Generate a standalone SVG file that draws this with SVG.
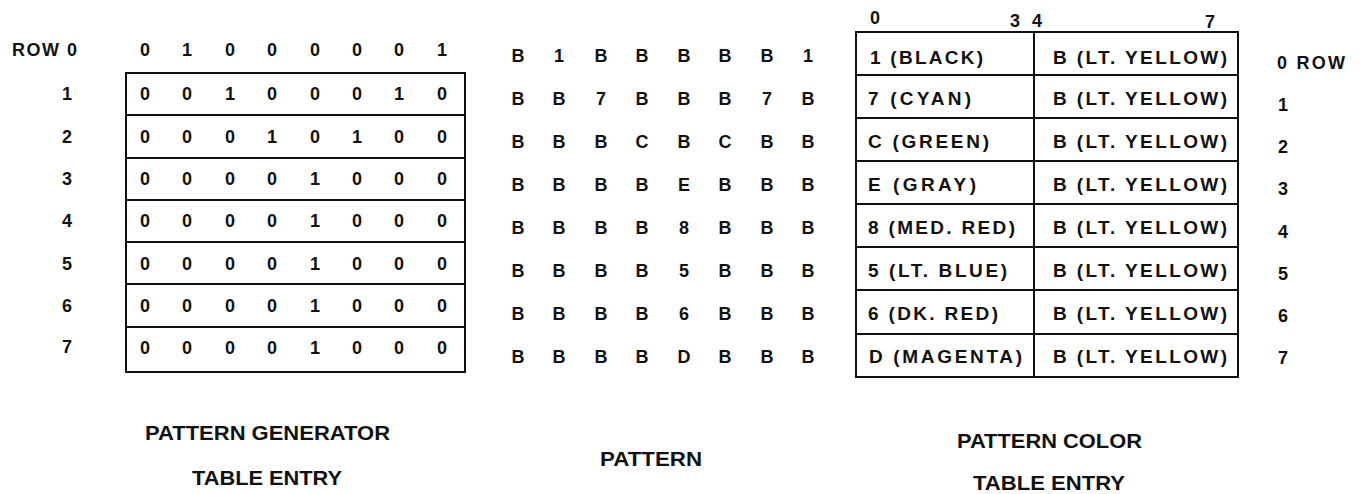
<svg xmlns="http://www.w3.org/2000/svg" width="1361" height="494" viewBox="0 0 1361 494">
<style>
text{font-family:"Liberation Sans",Arial,sans-serif;font-weight:bold;fill:#111;font-size:18px}
.c{text-anchor:middle}
.t{font-size:19px}
.cap{font-size:20px}
.box{fill:none;stroke:#111;stroke-width:2}
.ln{stroke:#111;stroke-width:2}
</style>
<rect width="1361" height="494" fill="#fff"/>

<g id="row-labels-left">
<text x="12" y="56" textLength="65" lengthAdjust="spacing">ROW 0</text>
<text class="c" x="67" y="100">1</text>
<text class="c" x="67" y="143">2</text>
<text class="c" x="67" y="185">3</text>
<text class="c" x="67" y="227">4</text>
<text class="c" x="67" y="270">5</text>
<text class="c" x="67" y="312">6</text>
<text class="c" x="67" y="353">7</text>
</g>

<g id="pattern-generator-table">
<rect class="box" x="126" y="73" width="339" height="299"/>
<line class="ln" x1="126" y1="115" x2="465" y2="115"/>
<line class="ln" x1="126" y1="158" x2="465" y2="158"/>
<line class="ln" x1="126" y1="200" x2="465" y2="200"/>
<line class="ln" x1="126" y1="242" x2="465" y2="242"/>
<line class="ln" x1="126" y1="284" x2="465" y2="284"/>
<line class="ln" x1="126" y1="327" x2="465" y2="327"/>
<text class="c" x="145" y="56">0</text><text class="c" x="187" y="56">1</text><text class="c" x="230" y="56">0</text><text class="c" x="272" y="56">0</text><text class="c" x="315" y="56">0</text><text class="c" x="357" y="56">0</text><text class="c" x="399" y="56">0</text><text class="c" x="442" y="56">1</text>
<text class="c" x="145" y="100">0</text><text class="c" x="187" y="100">0</text><text class="c" x="230" y="100">1</text><text class="c" x="272" y="100">0</text><text class="c" x="315" y="100">0</text><text class="c" x="357" y="100">0</text><text class="c" x="399" y="100">1</text><text class="c" x="442" y="100">0</text>
<text class="c" x="145" y="143">0</text><text class="c" x="187" y="143">0</text><text class="c" x="230" y="143">0</text><text class="c" x="272" y="143">1</text><text class="c" x="315" y="143">0</text><text class="c" x="357" y="143">1</text><text class="c" x="399" y="143">0</text><text class="c" x="442" y="143">0</text>
<text class="c" x="145" y="185">0</text><text class="c" x="187" y="185">0</text><text class="c" x="230" y="185">0</text><text class="c" x="272" y="185">0</text><text class="c" x="315" y="185">1</text><text class="c" x="357" y="185">0</text><text class="c" x="399" y="185">0</text><text class="c" x="442" y="185">0</text>
<text class="c" x="145" y="227">0</text><text class="c" x="187" y="227">0</text><text class="c" x="230" y="227">0</text><text class="c" x="272" y="227">0</text><text class="c" x="315" y="227">1</text><text class="c" x="357" y="227">0</text><text class="c" x="399" y="227">0</text><text class="c" x="442" y="227">0</text>
<text class="c" x="145" y="270">0</text><text class="c" x="187" y="270">0</text><text class="c" x="230" y="270">0</text><text class="c" x="272" y="270">0</text><text class="c" x="315" y="270">1</text><text class="c" x="357" y="270">0</text><text class="c" x="399" y="270">0</text><text class="c" x="442" y="270">0</text>
<text class="c" x="145" y="312">0</text><text class="c" x="187" y="312">0</text><text class="c" x="230" y="312">0</text><text class="c" x="272" y="312">0</text><text class="c" x="315" y="312">1</text><text class="c" x="357" y="312">0</text><text class="c" x="399" y="312">0</text><text class="c" x="442" y="312">0</text>
<text class="c" x="145" y="354">0</text><text class="c" x="187" y="354">0</text><text class="c" x="230" y="354">0</text><text class="c" x="272" y="354">0</text><text class="c" x="315" y="354">1</text><text class="c" x="357" y="354">0</text><text class="c" x="399" y="354">0</text><text class="c" x="442" y="354">0</text>
</g>

<g id="pattern">
<text class="c" x="518" y="62">B</text><text class="c" x="559" y="62">1</text><text class="c" x="601" y="62">B</text><text class="c" x="642" y="62">B</text><text class="c" x="684" y="62">B</text><text class="c" x="725" y="62">B</text><text class="c" x="767" y="62">B</text><text class="c" x="808" y="62">1</text>
<text class="c" x="518" y="105">B</text><text class="c" x="559" y="105">B</text><text class="c" x="601" y="105">7</text><text class="c" x="642" y="105">B</text><text class="c" x="684" y="105">B</text><text class="c" x="725" y="105">B</text><text class="c" x="767" y="105">7</text><text class="c" x="808" y="105">B</text>
<text class="c" x="518" y="148">B</text><text class="c" x="559" y="148">B</text><text class="c" x="601" y="148">B</text><text class="c" x="642" y="148">C</text><text class="c" x="684" y="148">B</text><text class="c" x="725" y="148">C</text><text class="c" x="767" y="148">B</text><text class="c" x="808" y="148">B</text>
<text class="c" x="518" y="191">B</text><text class="c" x="559" y="191">B</text><text class="c" x="601" y="191">B</text><text class="c" x="642" y="191">B</text><text class="c" x="684" y="191">E</text><text class="c" x="725" y="191">B</text><text class="c" x="767" y="191">B</text><text class="c" x="808" y="191">B</text>
<text class="c" x="518" y="234">B</text><text class="c" x="559" y="234">B</text><text class="c" x="601" y="234">B</text><text class="c" x="642" y="234">B</text><text class="c" x="684" y="234">8</text><text class="c" x="725" y="234">B</text><text class="c" x="767" y="234">B</text><text class="c" x="808" y="234">B</text>
<text class="c" x="518" y="277">B</text><text class="c" x="559" y="277">B</text><text class="c" x="601" y="277">B</text><text class="c" x="642" y="277">B</text><text class="c" x="684" y="277">5</text><text class="c" x="725" y="277">B</text><text class="c" x="767" y="277">B</text><text class="c" x="808" y="277">B</text>
<text class="c" x="518" y="320">B</text><text class="c" x="559" y="320">B</text><text class="c" x="601" y="320">B</text><text class="c" x="642" y="320">B</text><text class="c" x="684" y="320">6</text><text class="c" x="725" y="320">B</text><text class="c" x="767" y="320">B</text><text class="c" x="808" y="320">B</text>
<text class="c" x="518" y="363">B</text><text class="c" x="559" y="363">B</text><text class="c" x="601" y="363">B</text><text class="c" x="642" y="363">B</text><text class="c" x="684" y="363">D</text><text class="c" x="725" y="363">B</text><text class="c" x="767" y="363">B</text><text class="c" x="808" y="363">B</text>
</g>

<g id="pattern-color-table">
<text class="c" x="875" y="24">0</text>
<text class="c" x="1015" y="27">3</text>
<text class="c" x="1037" y="27">4</text>
<text class="c" x="1210" y="28">7</text>
<rect class="box" x="856" y="32" width="382" height="345"/>
<line class="ln" x1="1034" y1="32" x2="1034" y2="377"/>
<line class="ln" x1="856" y1="75" x2="1238" y2="75"/>
<line class="ln" x1="856" y1="118" x2="1238" y2="118"/>
<line class="ln" x1="856" y1="161" x2="1238" y2="161"/>
<line class="ln" x1="856" y1="204" x2="1238" y2="204"/>
<line class="ln" x1="856" y1="247" x2="1238" y2="247"/>
<line class="ln" x1="856" y1="290" x2="1238" y2="290"/>
<line class="ln" x1="856" y1="334" x2="1238" y2="334"/>
<text class="t" x="870" y="64" textLength="113" lengthAdjust="spacing">1 (BLACK)</text>
<text class="t" x="868" y="105" textLength="103" lengthAdjust="spacing">7 (CYAN)</text>
<text class="t" x="868" y="148" textLength="121" lengthAdjust="spacing">C (GREEN)</text>
<text class="t" x="868" y="191" textLength="108" lengthAdjust="spacing">E (GRAY)</text>
<text class="t" x="868" y="234" textLength="147" lengthAdjust="spacing">8 (MED. RED)</text>
<text class="t" x="868" y="277" textLength="139" lengthAdjust="spacing">5 (LT. BLUE)</text>
<text class="t" x="868" y="320" textLength="130" lengthAdjust="spacing">6 (DK. RED)</text>
<text class="t" x="869" y="363" textLength="153" lengthAdjust="spacing">D (MAGENTA)</text>
<text class="t" x="1053" y="64" textLength="174" lengthAdjust="spacing">B (LT. YELLOW)</text>
<text class="t" x="1053" y="105" textLength="174" lengthAdjust="spacing">B (LT. YELLOW)</text>
<text class="t" x="1053" y="148" textLength="174" lengthAdjust="spacing">B (LT. YELLOW)</text>
<text class="t" x="1053" y="191" textLength="174" lengthAdjust="spacing">B (LT. YELLOW)</text>
<text class="t" x="1053" y="234" textLength="174" lengthAdjust="spacing">B (LT. YELLOW)</text>
<text class="t" x="1053" y="277" textLength="174" lengthAdjust="spacing">B (LT. YELLOW)</text>
<text class="t" x="1053" y="320" textLength="174" lengthAdjust="spacing">B (LT. YELLOW)</text>
<text class="t" x="1053" y="363" textLength="174" lengthAdjust="spacing">B (LT. YELLOW)</text>
</g>

<g id="row-labels-right">
<text x="1277" y="69" textLength="68" lengthAdjust="spacing">0 ROW</text>
<text class="c" x="1283" y="111">1</text>
<text class="c" x="1283" y="153">2</text>
<text class="c" x="1283" y="195">3</text>
<text class="c" x="1283" y="238">4</text>
<text class="c" x="1283" y="280">5</text>
<text class="c" x="1283" y="322">6</text>
<text class="c" x="1283" y="364">7</text>
</g>

<g id="captions">
<text class="cap" x="145" y="440" textLength="245" lengthAdjust="spacingAndGlyphs">PATTERN GENERATOR</text>
<text class="cap" x="192" y="485" textLength="150" lengthAdjust="spacingAndGlyphs">TABLE ENTRY</text>
<text class="cap" x="600" y="466" textLength="102" lengthAdjust="spacingAndGlyphs">PATTERN</text>
<text class="cap" x="957" y="448" textLength="185" lengthAdjust="spacingAndGlyphs">PATTERN COLOR</text>
<text class="cap" x="973" y="490" textLength="152" lengthAdjust="spacingAndGlyphs">TABLE ENTRY</text>
</g>
</svg>
